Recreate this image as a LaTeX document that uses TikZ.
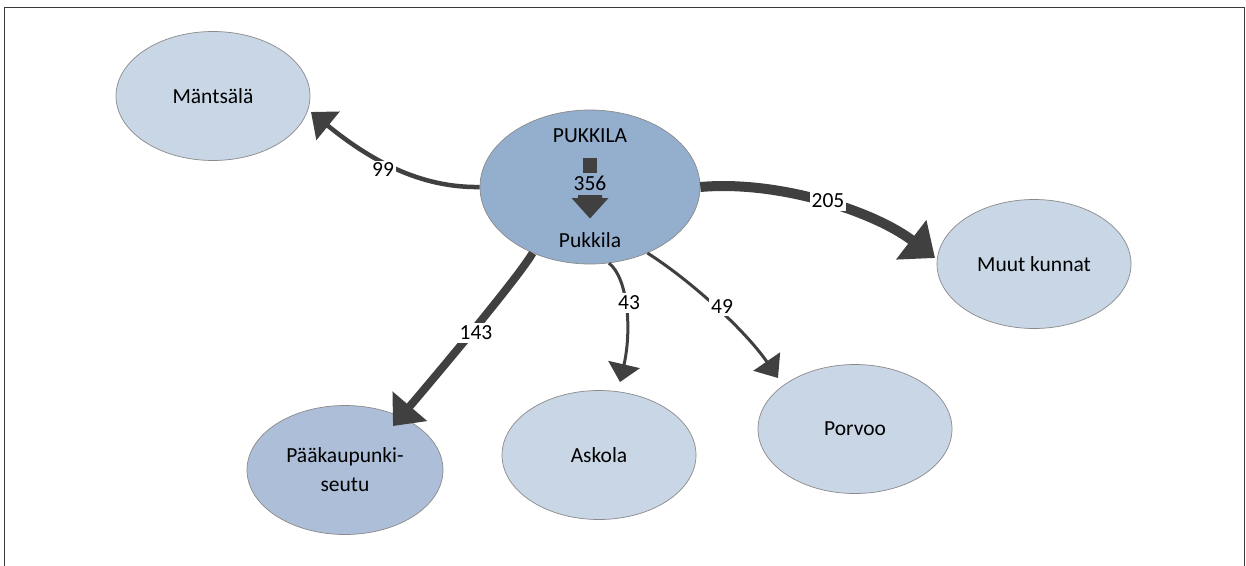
\documentclass[tikz,border=0pt]{standalone}
\usepackage{fontspec}
\setmainfont{Carlito}
\usetikzlibrary{shapes.geometric,arrows.meta}
\definecolor{darkarr}{HTML}{404040}
\definecolor{lightblue}{HTML}{C9D6E6}
\definecolor{midblue}{HTML}{ADBFD8}
\definecolor{hubblue}{HTML}{94AECE}
\definecolor{ellgray}{HTML}{8A8A8A}
\definecolor{framegray}{HTML}{3A3A3A}
\begin{document}
\begin{tikzpicture}[x=1pt,y=-1pt,
  place/.style={ellipse, draw=ellgray, line width=0.7pt, inner sep=0pt,
    minimum width=194pt, minimum height=129pt, fill=lightblue,
    font=\fontsize{21.5}{29}\selectfont, align=center},
  flow/.style={draw=darkarr, line width=#1},
  lbl/.style={fill=white, inner xsep=2pt, inner ysep=2.5pt, font=\fontsize{21.5}{25}\selectfont},
  txt/.style={inner sep=0pt, font=\fontsize{21.5}{25}\selectfont, anchor=base}
]
\useasboundingbox (0,0) rectangle (1246,565);
\clip (0,0) rectangle (1246,565);
% frame
\draw[framegray, line width=1.5pt] (4.5,575) -- (4.5,7.5) -- (1244.5,7.5) -- (1244.5,575);

% nodes
\node[place] (man) at (213,96) {Mäntsälä};
\node[place, minimum width=220pt, minimum height=154pt, fill=hubblue] (puk) at (590,187) {};
\node[place] (muu) at (1034,264) {Muut kunnat};
\node[place] (por) at (855,429) {Porvoo};
\node[place] (ask) at (599,455) {Askola};
\node[place, fill=midblue, minimum width=196pt] (paa) at (345,470) {Pääkaupunki-\\seutu};

% inner text of hub
\node[txt] (pukcap) at (590,142) {PUKKILA};
\node[txt] (pukname) at (590,247) {Pukkila};
\fill[darkarr] (583.3,158.3) rectangle (596.7,172.7);
\fill[darkarr] (578,195) -- (602,195) -- (602,198) -- (608.5,198) -- (590,218.5)
  -- (571.5,198) -- (578,198) -- cycle;
\node[txt] (pukval) at (590,190.5) {356};

% arrow tips
\coordinate (tman) at (311,112);
\coordinate (tmuu) at (935,258);
\coordinate (tpaa) at (393,426);
\coordinate (task) at (620,382);
\coordinate (tpor) at (778,378);

% connectors
\draw[flow=4.5pt, -{Triangle[width=36pt,length=22pt]}]
  (puk.west) .. controls (420,188) and (370,160) .. (tman);
\draw[flow=10pt, -{Triangle[width=48pt,length=30pt]}]
  (puk.east) .. controls (780,180) and (875,212) .. (tmuu);
\draw[flow=8pt, -{Triangle[width=44pt,length=26pt]}]
  (puk.229.5) .. controls (520,275) and (445,365) .. (tpaa);
\draw[flow=3pt, -{Triangle[width=32pt,length=18pt]}]
  (puk.284.7) .. controls (628,278) and (632,330) .. (task);
\draw[flow=3pt, -{Triangle[width=32pt,length=20pt]}]
  (puk.311.4) .. controls (690,280) and (745,330) .. (tpor);

% labels
\node[lbl] (l99) at (383,170) {99};
\node[lbl] (l205) at (828,201) {205};
\node[lbl] (l143) at (476,333) {143};
\node[lbl] (l43) at (629,303) {43};
\node[lbl] (l49) at (722,307) {49};
\end{tikzpicture}
\end{document}
